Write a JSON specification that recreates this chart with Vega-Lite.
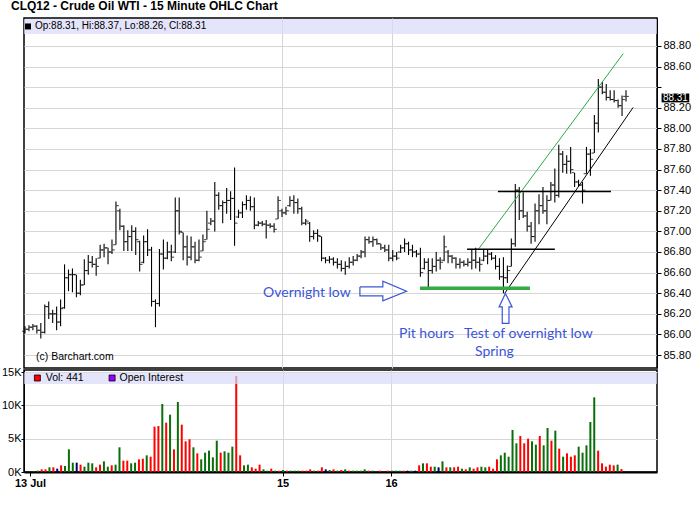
{
  "$schema": "https://vega.github.io/schema/vega-lite/v6.json",
  "padding": {"left": 0, "top": 0, "right": 2, "bottom": 2},
  "title": {"text": "CLQ12 - Crude Oil WTI - 15 Minute OHLC Chart", "anchor": "start", "frame": "group", "dx": -13, "offset": 4, "font": "Liberation Sans", "fontSize": 12, "fontWeight": "bold", "color": "#000"},
  "bounds": "flush",
  "spacing": 2,
  "config": {
    "view": {"stroke": "#000", "strokeWidth": 1.5},
    "axis": {"labelFont": "Liberation Sans", "labelFontSize": 11, "labelColor": "#000", "gridColor": "#d6d6d6", "gridOpacity": 1, "domainColor": "#000", "tickColor": "#000", "tickSize": 4, "labelPadding": 2, "labelOverlap": false}
  },
  "datasets": {
    "ohlc": [
      {"i":0,"o":86.03,"h":86.08,"l":86.01,"c":86.05,"v":50,"d":"up"},
      {"i":1,"o":86.05,"h":86.09,"l":86.03,"c":86.07,"v":100,"d":"up"},
      {"i":2,"o":86.07,"h":86.10,"l":86.04,"c":86.08,"v":200,"d":"up"},
      {"i":3,"o":86.08,"h":86.09,"l":86.01,"c":86.04,"v":400,"d":"down"},
      {"i":4,"o":86.04,"h":86.11,"l":85.96,"c":86.02,"v":400,"d":"down"},
      {"i":5,"o":86.02,"h":86.29,"l":86.01,"c":86.27,"v":700,"d":"up"},
      {"i":6,"o":86.27,"h":86.32,"l":86.15,"c":86.20,"v":700,"d":"down"},
      {"i":7,"o":86.20,"h":86.24,"l":86.11,"c":86.20,"v":500,"d":"flat"},
      {"i":8,"o":86.20,"h":86.27,"l":86.04,"c":86.12,"v":1000,"d":"down"},
      {"i":9,"o":86.12,"h":86.34,"l":86.08,"c":86.25,"v":900,"d":"up"},
      {"i":10,"o":86.26,"h":86.68,"l":86.25,"c":86.55,"v":3400,"d":"up"},
      {"i":11,"o":86.55,"h":86.63,"l":86.42,"c":86.58,"v":1400,"d":"up"},
      {"i":12,"o":86.58,"h":86.64,"l":86.41,"c":86.58,"v":1400,"d":"flat"},
      {"i":13,"o":86.58,"h":86.58,"l":86.36,"c":86.40,"v":1100,"d":"down"},
      {"i":14,"o":86.40,"h":86.53,"l":86.38,"c":86.48,"v":800,"d":"up"},
      {"i":15,"o":86.48,"h":86.73,"l":86.48,"c":86.62,"v":1400,"d":"up"},
      {"i":16,"o":86.62,"h":86.77,"l":86.58,"c":86.70,"v":1300,"d":"up"},
      {"i":17,"o":86.70,"h":86.76,"l":86.65,"c":86.68,"v":700,"d":"down"},
      {"i":18,"o":86.68,"h":86.74,"l":86.57,"c":86.66,"v":1100,"d":"down"},
      {"i":19,"o":86.74,"h":86.87,"l":86.74,"c":86.82,"v":1600,"d":"up"},
      {"i":20,"o":86.82,"h":86.88,"l":86.75,"c":86.84,"v":800,"d":"up"},
      {"i":21,"o":86.84,"h":86.84,"l":86.68,"c":86.80,"v":1000,"d":"down"},
      {"i":22,"o":86.80,"h":86.92,"l":86.78,"c":86.82,"v":1100,"d":"up"},
      {"i":23,"o":86.87,"h":87.29,"l":86.87,"c":87.25,"v":3700,"d":"up"},
      {"i":24,"o":87.20,"h":87.22,"l":87.01,"c":87.05,"v":1700,"d":"down"},
      {"i":25,"o":87.05,"h":87.06,"l":86.81,"c":86.90,"v":1700,"d":"down"},
      {"i":26,"o":86.90,"h":87.01,"l":86.81,"c":86.95,"v":1300,"d":"up"},
      {"i":27,"o":86.95,"h":87.06,"l":86.81,"c":87.00,"v":1400,"d":"up"},
      {"i":28,"o":87.00,"h":87.04,"l":86.77,"c":86.92,"v":1900,"d":"down"},
      {"i":29,"o":86.90,"h":86.91,"l":86.61,"c":86.68,"v":2000,"d":"down"},
      {"i":30,"o":86.70,"h":86.96,"l":86.69,"c":86.90,"v":2500,"d":"up"},
      {"i":31,"o":86.90,"h":87.02,"l":86.76,"c":86.82,"v":2300,"d":"down"},
      {"i":32,"o":86.82,"h":86.85,"l":86.27,"c":86.32,"v":6800,"d":"down"},
      {"i":33,"o":86.32,"h":86.34,"l":86.07,"c":86.30,"v":6900,"d":"down"},
      {"i":34,"o":86.30,"h":86.83,"l":86.27,"c":86.78,"v":10200,"d":"up"},
      {"i":35,"o":86.78,"h":86.92,"l":86.63,"c":86.74,"v":7400,"d":"down"},
      {"i":36,"o":86.74,"h":86.90,"l":86.73,"c":86.80,"v":8600,"d":"up"},
      {"i":37,"o":86.80,"h":86.87,"l":86.71,"c":86.75,"v":3400,"d":"down"},
      {"i":38,"o":86.80,"h":87.33,"l":86.79,"c":87.20,"v":10500,"d":"up"},
      {"i":39,"o":87.20,"h":87.33,"l":86.97,"c":87.00,"v":7100,"d":"down"},
      {"i":40,"o":86.99,"h":86.99,"l":86.72,"c":86.85,"v":4600,"d":"down"},
      {"i":41,"o":86.85,"h":86.96,"l":86.67,"c":86.75,"v":4900,"d":"down"},
      {"i":42,"o":86.75,"h":86.95,"l":86.72,"c":86.85,"v":3700,"d":"up"},
      {"i":43,"o":86.85,"h":86.90,"l":86.69,"c":86.72,"v":2800,"d":"down"},
      {"i":44,"o":86.72,"h":86.92,"l":86.71,"c":86.75,"v":1900,"d":"up"},
      {"i":45,"o":86.81,"h":86.97,"l":86.81,"c":86.90,"v":2900,"d":"up"},
      {"i":46,"o":86.92,"h":87.20,"l":86.92,"c":87.02,"v":3200,"d":"up"},
      {"i":47,"o":87.08,"h":87.13,"l":87.06,"c":87.10,"v":2200,"d":"up"},
      {"i":48,"o":87.10,"h":87.48,"l":87.00,"c":87.35,"v":4700,"d":"up"},
      {"i":49,"o":87.35,"h":87.38,"l":87.21,"c":87.25,"v":2900,"d":"down"},
      {"i":50,"o":87.25,"h":87.30,"l":87.08,"c":87.28,"v":3100,"d":"up"},
      {"i":51,"o":87.28,"h":87.42,"l":87.17,"c":87.30,"v":2900,"d":"up"},
      {"i":52,"o":87.30,"h":87.39,"l":87.11,"c":87.32,"v":3800,"d":"up"},
      {"i":53,"o":87.32,"h":87.62,"l":86.86,"c":87.08,"v":14400,"d":"down"},
      {"i":54,"o":87.14,"h":87.21,"l":87.13,"c":87.18,"v":2500,"d":"down"},
      {"i":55,"o":87.18,"h":87.29,"l":87.13,"c":87.26,"v":1000,"d":"up"},
      {"i":56,"o":87.26,"h":87.35,"l":87.21,"c":87.30,"v":1100,"d":"up"},
      {"i":57,"o":87.30,"h":87.34,"l":87.20,"c":87.24,"v":700,"d":"down"},
      {"i":58,"o":87.24,"h":87.33,"l":87.02,"c":87.06,"v":500,"d":"down"},
      {"i":59,"o":87.06,"h":87.10,"l":87.05,"c":87.08,"v":1100,"d":"down"},
      {"i":60,"o":87.08,"h":87.10,"l":87.05,"c":87.07,"v":400,"d":"up"},
      {"i":61,"o":87.07,"h":87.11,"l":86.93,"c":87.06,"v":200,"d":"up"},
      {"i":62,"o":87.06,"h":87.08,"l":87.03,"c":87.05,"v":500,"d":"down"},
      {"i":63,"o":87.05,"h":87.08,"l":86.99,"c":87.02,"v":200,"d":"up"},
      {"i":64,"o":87.12,"h":87.34,"l":87.12,"c":87.30,"v":200,"d":"down"},
      {"i":65,"o":87.20,"h":87.22,"l":87.14,"c":87.18,"v":300,"d":"up"},
      {"i":66,"o":87.18,"h":87.24,"l":87.16,"c":87.20,"v":200,"d":"down"},
      {"i":67,"o":87.25,"h":87.34,"l":87.24,"c":87.30,"v":200,"d":"up"},
      {"i":68,"o":87.30,"h":87.35,"l":87.17,"c":87.28,"v":200,"d":"up"},
      {"i":69,"o":87.28,"h":87.32,"l":87.17,"c":87.22,"v":200,"d":"up"},
      {"i":70,"o":87.22,"h":87.24,"l":87.06,"c":87.08,"v":200,"d":"down"},
      {"i":71,"o":87.08,"h":87.12,"l":87.06,"c":87.10,"v":200,"d":"down"},
      {"i":72,"o":87.08,"h":87.09,"l":86.90,"c":86.95,"v":400,"d":"down"},
      {"i":73,"o":86.95,"h":87.01,"l":86.92,"c":86.98,"v":200,"d":"up"},
      {"i":74,"o":86.98,"h":87.02,"l":86.90,"c":86.96,"v":200,"d":"down"},
      {"i":75,"o":86.95,"h":86.95,"l":86.71,"c":86.74,"v":700,"d":"down"},
      {"i":76,"o":86.74,"h":86.75,"l":86.69,"c":86.72,"v":400,"d":"flat"},
      {"i":77,"o":86.72,"h":86.76,"l":86.69,"c":86.73,"v":300,"d":"up"},
      {"i":78,"o":86.73,"h":86.75,"l":86.67,"c":86.70,"v":400,"d":"down"},
      {"i":79,"o":86.70,"h":86.74,"l":86.64,"c":86.68,"v":200,"d":"up"},
      {"i":80,"o":86.68,"h":86.72,"l":86.61,"c":86.64,"v":300,"d":"down"},
      {"i":81,"o":86.64,"h":86.71,"l":86.58,"c":86.66,"v":400,"d":"up"},
      {"i":82,"o":86.66,"h":86.75,"l":86.64,"c":86.70,"v":200,"d":"down"},
      {"i":83,"o":86.70,"h":86.76,"l":86.67,"c":86.72,"v":200,"d":"up"},
      {"i":84,"o":86.72,"h":86.78,"l":86.71,"c":86.76,"v":200,"d":"up"},
      {"i":85,"o":86.76,"h":86.82,"l":86.74,"c":86.80,"v":200,"d":"up"},
      {"i":86,"o":86.80,"h":86.95,"l":86.75,"c":86.92,"v":400,"d":"up"},
      {"i":87,"o":86.92,"h":86.95,"l":86.88,"c":86.90,"v":200,"d":"down"},
      {"i":88,"o":86.90,"h":86.95,"l":86.85,"c":86.92,"v":200,"d":"up"},
      {"i":89,"o":86.92,"h":86.93,"l":86.87,"c":86.88,"v":50,"d":"up"},
      {"i":90,"o":86.88,"h":86.88,"l":86.82,"c":86.84,"v":200,"d":"down"},
      {"i":91,"o":86.84,"h":86.87,"l":86.80,"c":86.82,"v":50,"d":"down"},
      {"i":92,"o":86.82,"h":86.87,"l":86.71,"c":86.74,"v":200,"d":"down"},
      {"i":93,"o":86.74,"h":86.82,"l":86.71,"c":86.76,"v":200,"d":"up"},
      {"i":94,"o":86.76,"h":86.80,"l":86.72,"c":86.74,"v":200,"d":"up"},
      {"i":95,"o":86.80,"h":86.87,"l":86.79,"c":86.84,"v":200,"d":"up"},
      {"i":96,"o":86.84,"h":86.93,"l":86.80,"c":86.88,"v":200,"d":"down"},
      {"i":97,"o":86.88,"h":86.90,"l":86.77,"c":86.82,"v":200,"d":"flat"},
      {"i":98,"o":86.82,"h":86.87,"l":86.75,"c":86.80,"v":200,"d":"up"},
      {"i":99,"o":86.80,"h":86.82,"l":86.75,"c":86.78,"v":200,"d":"flat"},
      {"i":100,"o":86.78,"h":86.84,"l":86.56,"c":86.60,"v":1000,"d":"down"},
      {"i":101,"o":86.64,"h":86.74,"l":86.63,"c":86.70,"v":1300,"d":"up"},
      {"i":102,"o":86.70,"h":86.74,"l":86.46,"c":86.62,"v":1300,"d":"down"},
      {"i":103,"o":86.62,"h":86.74,"l":86.59,"c":86.66,"v":800,"d":"down"},
      {"i":104,"o":86.66,"h":86.80,"l":86.61,"c":86.72,"v":800,"d":"up"},
      {"i":105,"o":86.72,"h":86.75,"l":86.63,"c":86.70,"v":700,"d":"flat"},
      {"i":106,"o":86.72,"h":86.96,"l":86.71,"c":86.85,"v":1600,"d":"up"},
      {"i":107,"o":86.80,"h":86.82,"l":86.69,"c":86.76,"v":700,"d":"down"},
      {"i":108,"o":86.76,"h":86.77,"l":86.69,"c":86.74,"v":700,"d":"up"},
      {"i":109,"o":86.74,"h":86.75,"l":86.64,"c":86.68,"v":700,"d":"down"},
      {"i":110,"o":86.68,"h":86.74,"l":86.64,"c":86.70,"v":800,"d":"down"},
      {"i":111,"o":86.70,"h":86.72,"l":86.66,"c":86.68,"v":500,"d":"up"},
      {"i":112,"o":86.68,"h":86.74,"l":86.66,"c":86.70,"v":400,"d":"down"},
      {"i":113,"o":86.70,"h":86.83,"l":86.63,"c":86.72,"v":700,"d":"up"},
      {"i":114,"o":86.72,"h":86.84,"l":86.64,"c":86.70,"v":500,"d":"down"},
      {"i":115,"o":86.70,"h":86.75,"l":86.61,"c":86.68,"v":700,"d":"down"},
      {"i":116,"o":86.72,"h":86.82,"l":86.71,"c":86.76,"v":800,"d":"up"},
      {"i":117,"o":86.76,"h":86.83,"l":86.68,"c":86.78,"v":700,"d":"up"},
      {"i":118,"o":86.78,"h":86.80,"l":86.72,"c":86.74,"v":800,"d":"down"},
      {"i":119,"o":86.74,"h":86.77,"l":86.63,"c":86.66,"v":500,"d":"down"},
      {"i":120,"o":86.66,"h":86.74,"l":86.53,"c":86.56,"v":1900,"d":"down"},
      {"i":121,"o":86.56,"h":86.75,"l":86.40,"c":86.55,"v":2500,"d":"up"},
      {"i":122,"o":86.55,"h":86.67,"l":86.50,"c":86.62,"v":2900,"d":"up"},
      {"i":123,"o":86.66,"h":86.93,"l":86.66,"c":86.88,"v":2300,"d":"up"},
      {"i":124,"o":86.88,"h":87.46,"l":86.85,"c":87.40,"v":6300,"d":"up"},
      {"i":125,"o":87.40,"h":87.43,"l":87.11,"c":87.20,"v":4300,"d":"up"},
      {"i":126,"o":87.20,"h":87.38,"l":87.13,"c":87.15,"v":5400,"d":"down"},
      {"i":127,"o":87.15,"h":87.19,"l":87.00,"c":87.05,"v":4300,"d":"down"},
      {"i":128,"o":87.05,"h":87.09,"l":86.88,"c":86.95,"v":5000,"d":"down"},
      {"i":129,"o":86.95,"h":87.27,"l":86.90,"c":87.20,"v":4600,"d":"up"},
      {"i":130,"o":87.20,"h":87.36,"l":87.07,"c":87.25,"v":4100,"d":"up"},
      {"i":131,"o":87.25,"h":87.43,"l":87.17,"c":87.20,"v":5400,"d":"down"},
      {"i":132,"o":87.20,"h":87.35,"l":87.07,"c":87.30,"v":4000,"d":"up"},
      {"i":133,"o":87.30,"h":87.48,"l":87.30,"c":87.45,"v":6600,"d":"up"},
      {"i":134,"o":87.45,"h":87.61,"l":87.28,"c":87.35,"v":4700,"d":"down"},
      {"i":135,"o":87.35,"h":87.84,"l":87.33,"c":87.75,"v":6200,"d":"up"},
      {"i":136,"o":87.75,"h":87.78,"l":87.57,"c":87.65,"v":3500,"d":"down"},
      {"i":137,"o":87.65,"h":87.74,"l":87.56,"c":87.68,"v":2300,"d":"up"},
      {"i":138,"o":87.68,"h":87.82,"l":87.56,"c":87.60,"v":2800,"d":"down"},
      {"i":139,"o":87.57,"h":87.57,"l":87.43,"c":87.48,"v":2300,"d":"down"},
      {"i":140,"o":87.48,"h":87.50,"l":87.43,"c":87.45,"v":2500,"d":"down"},
      {"i":141,"o":87.45,"h":87.48,"l":87.27,"c":87.40,"v":3800,"d":"up"},
      {"i":142,"o":87.56,"h":87.82,"l":87.56,"c":87.75,"v":2900,"d":"up"},
      {"i":143,"o":87.75,"h":87.80,"l":87.54,"c":87.70,"v":4000,"d":"up"},
      {"i":144,"o":87.76,"h":88.13,"l":87.76,"c":88.05,"v":7500,"d":"up"},
      {"i":145,"o":88.05,"h":88.48,"l":87.96,"c":88.40,"v":11200,"d":"up"},
      {"i":146,"o":88.40,"h":88.45,"l":88.33,"c":88.35,"v":3200,"d":"down"},
      {"i":147,"o":88.35,"h":88.43,"l":88.27,"c":88.30,"v":1300,"d":"down"},
      {"i":148,"o":88.30,"h":88.37,"l":88.27,"c":88.28,"v":800,"d":"down"},
      {"i":149,"o":88.28,"h":88.37,"l":88.25,"c":88.27,"v":1100,"d":"down"},
      {"i":150,"o":88.27,"h":88.28,"l":88.20,"c":88.22,"v":1000,"d":"down"},
      {"i":151,"o":88.22,"h":88.32,"l":88.12,"c":88.28,"v":1100,"d":"up"},
      {"i":152,"o":88.31,"h":88.37,"l":88.26,"c":88.31,"v":441,"d":"down"}
    ],
    "arrows": [
      {"a":"right","k":0,"i":84.7,"p":86.461},
      {"a":"right","k":1,"i":90.5,"p":86.461},
      {"a":"right","k":2,"i":90.5,"p":86.516},
      {"a":"right","k":3,"i":96.5,"p":86.419},
      {"a":"right","k":4,"i":90.5,"p":86.325},
      {"a":"right","k":5,"i":90.5,"p":86.374},
      {"a":"right","k":6,"i":84.7,"p":86.374},
      {"a":"right","k":7,"i":84.7,"p":86.461},
      {"a":"up","k":0,"i":121.5,"p":86.397},
      {"a":"up","k":1,"i":123.2,"p":86.267},
      {"a":"up","k":2,"i":122.4,"p":86.267},
      {"a":"up","k":3,"i":122.4,"p":86.107},
      {"a":"up","k":4,"i":120.7,"p":86.107},
      {"a":"up","k":5,"i":120.7,"p":86.267},
      {"a":"up","k":6,"i":119.9,"p":86.267},
      {"a":"up","k":7,"i":121.5,"p":86.397}
    ],
    "notes": [
      {"i":60.2,"p":86.405,"t":"Overnight low"},
      {"i":94.6,"p":86.003,"t":"Pit hours"},
      {"i":111.0,"p":86.003,"t":"Test of overnight low"},
      {"i":113.8,"p":85.829,"t":"Spring"}
    ],
    "volKey": [
      {"i":1.9,"ti":4.05,"t":"Vol: 441"},
      {"i":21.1,"ti":23.0,"t":"Open Interest"}
    ]
  },
  "vconcat": [
    {
      "width": 633,
      "height": 350,
      "layer": [
        {
          "data": {"values": [{}]},
          "mark": {"type": "rect", "color": "#d8d8f8", "opacity": 0.7},
          "encoding": {
            "y": {"datum": 89.061, "type": "quantitative"},
            "y2": {"datum": 88.916}
          }
        },
        {
          "data": {"name": "ohlc"},
          "mark": {"type": "rule", "color": "#000", "strokeWidth": 1.1},
          "encoding": {
            "x": {"field": "i", "type": "quantitative", "title": null,
              "scale": {"domain": [-0.253, 159.84], "nice": false, "zero": false},
              "axis": {"values": [64.9, 92.8], "tickCount": 50, "labels": false, "ticks": false, "domain": false, "grid": true}},
            "y": {"field": "l", "type": "quantitative", "title": null,
              "scale": {"domain": [85.674, 89.071], "nice": false, "zero": false},
              "axis": {"orient": "right", "values": [85.8, 86, 86.2, 86.4, 86.6, 86.8, 87, 87.2, 87.4, 87.6, 87.8, 88, 88.2, 88.4, 88.6, 88.8],
                "tickCount": 50, "format": ".2f", "labelExpr": "abs(datum.value - 88.4) < 0.01 ? '' : datum.label", "grid": true, "labelOverlap": false}},
            "y2": {"field": "h"}
          }
        },
        {
          "data": {"name": "ohlc"},
          "mark": {"type": "tick", "orient": "horizontal", "color": "#000", "size": 2.5, "thickness": 1.1, "xOffset": -1.6},
          "encoding": {
            "x": {"field": "i", "type": "quantitative"},
            "y": {"field": "o", "type": "quantitative"}
          }
        },
        {
          "data": {"name": "ohlc"},
          "mark": {"type": "tick", "orient": "horizontal", "color": "#000", "size": 2.5, "thickness": 1.1, "xOffset": 1.6},
          "encoding": {
            "x": {"field": "i", "type": "quantitative"},
            "y": {"field": "c", "type": "quantitative"}
          }
        },
        {
          "data": {"values": [{}]},
          "mark": {"type": "rule", "color": "#2aa845", "strokeWidth": 1},
          "encoding": {
            "x": {"datum": 114.6, "type": "quantitative"}, "y": {"datum": 86.823, "type": "quantitative"},
            "x2": {"datum": 151.3}, "y2": {"datum": 88.725}
          }
        },
        {
          "data": {"values": [{}]},
          "mark": {"type": "rule", "color": "#000", "strokeWidth": 1},
          "encoding": {
            "x": {"datum": 121.3, "type": "quantitative"}, "y": {"datum": 86.397, "type": "quantitative"},
            "x2": {"datum": 153.8}, "y2": {"datum": 88.203}
          }
        },
        {
          "data": {"values": [{}]},
          "mark": {"type": "rule", "color": "#000", "strokeWidth": 1.5},
          "encoding": {
            "x": {"datum": 111.8, "type": "quantitative"}, "y": {"datum": 86.826, "type": "quantitative"},
            "x2": {"datum": 134.0}
          }
        },
        {
          "data": {"values": [{}]},
          "mark": {"type": "rule", "color": "#000", "strokeWidth": 1.5},
          "encoding": {
            "x": {"datum": 119.6, "type": "quantitative"}, "y": {"datum": 87.387, "type": "quantitative"},
            "x2": {"datum": 148.2}
          }
        },
        {
          "data": {"values": [{}]},
          "mark": {"type": "rule", "color": "#33aa44", "strokeWidth": 3.5},
          "encoding": {
            "x": {"datum": 99.9, "type": "quantitative"}, "y": {"datum": 86.448, "type": "quantitative"},
            "x2": {"datum": 127.7}
          }
        },
        {
          "data": {"name": "arrows"},
          "mark": {"type": "line", "color": "#3b55d8", "strokeWidth": 1.2},
          "encoding": {
            "x": {"field": "i", "type": "quantitative"},
            "y": {"field": "p", "type": "quantitative"},
            "detail": {"field": "a"},
            "order": {"field": "k"}
          }
        },
        {
          "data": {"name": "notes"},
          "mark": {"type": "text", "align": "left", "baseline": "middle", "font": "Lato", "fontSize": 14, "color": "#3b55d8"},
          "encoding": {
            "x": {"field": "i", "type": "quantitative"},
            "y": {"field": "p", "type": "quantitative"},
            "text": {"field": "t"}
          }
        },
        {
          "data": {"values": [{"t": "(c) Barchart.com"}]},
          "mark": {"type": "text", "align": "left", "baseline": "middle", "font": "Liberation Sans", "fontSize": 10.5, "color": "#000"},
          "encoding": {
            "x": {"datum": 2.8, "type": "quantitative"},
            "y": {"datum": 85.78, "type": "quantitative"},
            "text": {"field": "t"}
          }
        },
        {
          "data": {"values": [{}]},
          "mark": {"type": "point", "shape": "square", "filled": true, "color": "#000", "size": 36, "opacity": 1},
          "encoding": {
            "x": {"datum": 0.76, "type": "quantitative"},
            "y": {"datum": 88.989, "type": "quantitative"}
          }
        },
        {
          "data": {"values": [{"t": "Op:88.31, Hi:88.37, Lo:88.26, Cl:88.31"}]},
          "mark": {"type": "text", "align": "left", "baseline": "middle", "font": "Liberation Sans", "fontSize": 10, "color": "#000"},
          "encoding": {
            "x": {"datum": 2.53, "type": "quantitative"},
            "y": {"datum": 88.989, "type": "quantitative"},
            "text": {"field": "t"}
          }
        },
        {
          "data": {"values": [{}]},
          "mark": {"type": "rect", "color": "#000"},
          "encoding": {
            "x": {"datum": 161.0, "type": "quantitative"}, "x2": {"datum": 168.0},
            "y": {"datum": 88.338, "type": "quantitative"}, "y2": {"datum": 88.252}
          }
        },
        {
          "data": {"values": [{"t": "88.31"}]},
          "mark": {"type": "text", "align": "center", "baseline": "middle", "font": "Liberation Sans", "fontSize": 10, "color": "#fff"},
          "encoding": {
            "x": {"datum": 164.5, "type": "quantitative"},
            "y": {"datum": 88.297, "type": "quantitative"},
            "text": {"field": "t"}
          }
        }
      ]
    },
    {
      "width": 633,
      "height": 102,
      "layer": [
        {
          "data": {"name": "ohlc"},
          "mark": {"type": "bar", "width": 2},
          "encoding": {
            "x": {"field": "i", "type": "quantitative", "title": null,
              "scale": {"domain": [-0.253, 159.84], "nice": false, "zero": false},
              "axis": {"values": [0, 64.9, 92.8], "tickCount": 50, "labelExpr": "datum.value < 1 ? '13 Jul' : (datum.value < 70 ? '15' : '16')",
                "labelFontWeight": "bold", "labelFontSize": 11, "labelPadding": 1.5, "domainWidth": 2, "grid": true,
                "gridColor": {"condition": {"test": "datum.value < 1", "value": "transparent"}, "value": "#d6d6d6"}}},
            "y": {"field": "v", "type": "quantitative", "title": null,
              "scale": {"domain": [0, 15300], "nice": false},
              "axis": {"values": [0, 5000, 10000, 15000], "tickCount": 50, "labelExpr": "(datum.value / 1000) + 'K'", "labelPadding": 0, "tickSize": 3,
                "grid": true, "labelOverlap": false}},
            "color": {"field": "d", "type": "nominal", "legend": null,
              "scale": {"domain": ["up", "down", "flat"], "range": ["#0a6e0a", "#ff0000", "#000066"]}}
          }
        },
        {
          "data": {"values": [{}]},
          "mark": {"type": "rect", "color": "#d8d8f8", "opacity": 0.7},
          "encoding": {
            "y": {"datum": 14955, "type": "quantitative"},
            "y2": {"datum": 13200}
          }
        },
        {
          "data": {"name": "volKey"},
          "mark": {"type": "point", "shape": "square", "filled": true, "size": 36, "opacity": 1, "stroke": "#000", "strokeWidth": 0.8},
          "encoding": {
            "x": {"field": "i", "type": "quantitative"},
            "y": {"datum": 14100, "type": "quantitative"},
            "fill": {"field": "t", "type": "nominal", "legend": null,
              "scale": {"domain": ["Vol: 441", "Open Interest"], "range": ["#ff0000", "#9a00ff"]}}
          }
        },
        {
          "data": {"name": "volKey"},
          "mark": {"type": "text", "align": "left", "baseline": "middle", "font": "Liberation Sans", "fontSize": 10.5, "color": "#000"},
          "encoding": {
            "x": {"field": "ti", "type": "quantitative"},
            "y": {"datum": 14100, "type": "quantitative"},
            "text": {"field": "t"}
          }
        }
      ]
    }
  ]
}
